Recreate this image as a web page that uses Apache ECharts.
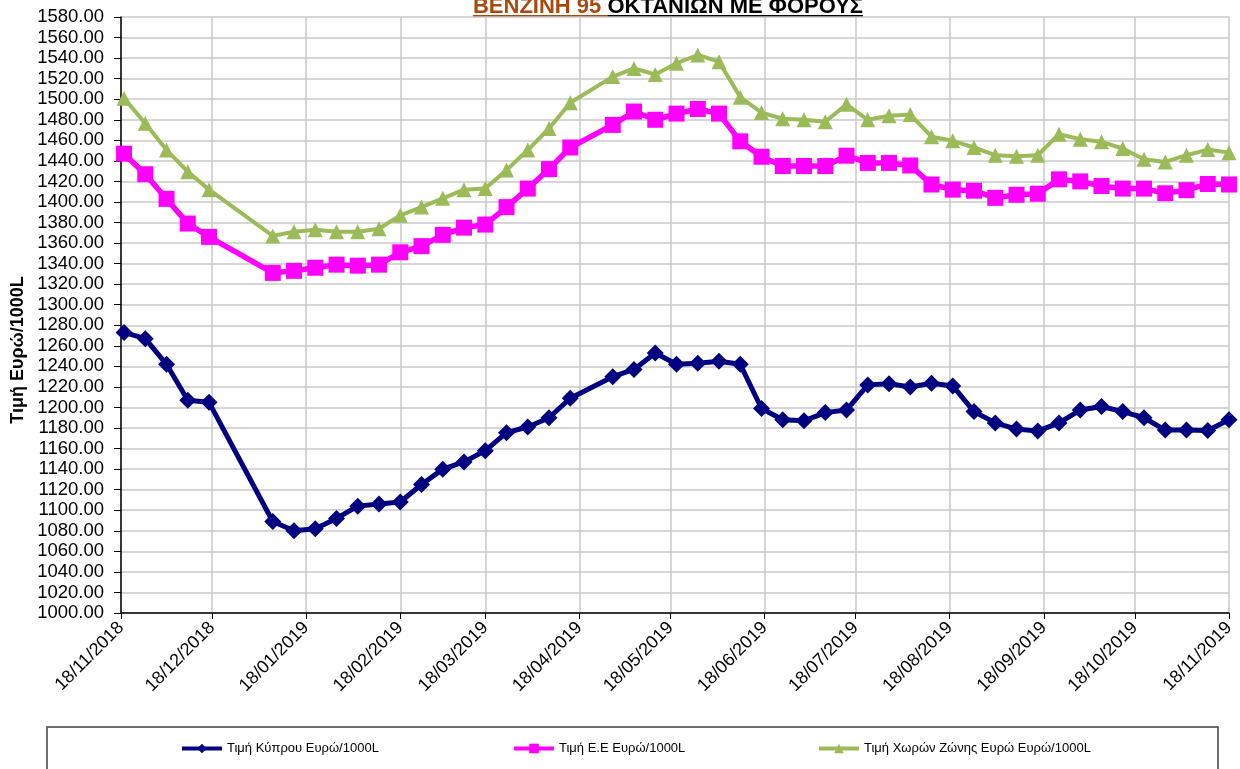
<!DOCTYPE html>
<html><head><meta charset="utf-8">
<script src="https://cdn.jsdelivr.net/npm/echarts@6/dist/echarts.min.js"></script>
<style>html,body{margin:0;padding:0;background:#fff}#c{width:1240px;height:769px}</style>
</head><body><div id="c"></div>
<script>
// ---- data ----
const dates = [
  '2018-11-19','2018-11-26','2018-12-03','2018-12-10','2018-12-17',
  '2019-01-07','2019-01-14','2019-01-21','2019-01-28','2019-02-04','2019-02-11','2019-02-18','2019-02-25',
  '2019-03-04','2019-03-11','2019-03-18','2019-03-25','2019-04-01','2019-04-08','2019-04-15',
  '2019-04-29','2019-05-06','2019-05-13','2019-05-20','2019-05-27','2019-06-03','2019-06-10','2019-06-17','2019-06-24',
  '2019-07-01','2019-07-08','2019-07-15','2019-07-22','2019-07-29','2019-08-05','2019-08-12','2019-08-19','2019-08-26',
  '2019-09-02','2019-09-09','2019-09-16','2019-09-23','2019-09-30','2019-10-07','2019-10-14','2019-10-21','2019-10-28',
  '2019-11-04','2019-11-11','2019-11-18'
];
const cyprus = [
  1273, 1267, 1242, 1207, 1205,
  1089, 1080, 1082, 1092, 1104, 1106, 1108, 1125, 1140, 1147, 1158, 1175.5, 1181, 1190, 1209,
  1230, 1237, 1253, 1242, 1243, 1245, 1242, 1199, 1188, 1187, 1195, 1197.5, 1222, 1223, 1220, 1223.5, 1221, 1196, 1185, 1179,
  1177, 1185, 1197.5, 1201, 1196, 1190, 1178, 1178, 1177.5, 1188
];
const eu = [
  1447, 1427, 1403, 1379, 1366,
  1331, 1333, 1336, 1339, 1338, 1339, 1351, 1357, 1368, 1375, 1378, 1395, 1413, 1432, 1453,
  1475, 1488, 1480, 1486, 1490.5, 1486, 1459, 1444, 1435, 1435, 1435, 1445, 1438, 1438, 1435.5, 1417, 1412, 1411, 1404, 1407,
  1408, 1422, 1420, 1415.5, 1413, 1413, 1408.5, 1411.5, 1417.5, 1417
];
const euroZone = [
  1501, 1476.5, 1450.5, 1429.5, 1412,
  1367, 1371, 1373, 1371, 1371, 1374, 1387, 1395, 1403.5, 1412, 1413, 1431, 1450.5, 1471.5, 1496.5,
  1522, 1530, 1524, 1535, 1543, 1536.5, 1502, 1487, 1481, 1480, 1478, 1495, 1480, 1484, 1485, 1463.5, 1459.5, 1453, 1445.5, 1444.5,
  1445.5, 1466, 1461, 1458.5, 1452, 1441.5, 1439, 1445.5, 1451, 1448
];
const tickDates = ['2018-11-18','2018-12-18','2019-01-18','2019-02-18','2019-03-18','2019-04-18','2019-05-18',
  '2019-06-18','2019-07-18','2019-08-18','2019-09-18','2019-10-18','2019-11-18'];
const yMin = 1000, yMax = 1580, yStep = 20;
const seriesNames = ['Τιμή Κύπρου Ευρώ/1000L', 'Τιμή Ε.Ε Ευρώ/1000L', 'Τιμή Χωρών Ζώνης Ευρώ Ευρώ/1000L'];
const titlePart1 = 'ΒΕΝΖΙΝΗ 95 ';
const titlePart2 = 'ΟΚΤΑΝΙΩΝ ΜΕ ΦΟΡΟΥΣ';
const yAxisTitle = 'Τιμή Ευρώ/1000L';

// ---- helpers ----
const FONT = '"Liberation Sans", Arial, sans-serif';
function toTime(s){ const p = s.split('-').map(Number); return Date.UTC(p[0], p[1]-1, p[2]); }
function pad(n){ return (n<10?'0':'')+n; }
function fmt(v){ const d = new Date(v); return pad(d.getUTCDate())+'/'+pad(d.getUTCMonth()+1)+'/'+d.getUTCFullYear(); }
function zip(a,b){ return a.map((d,i)=>[toTime(d), b[i]]); }
const tickTimes = tickDates.map(toTime);

const ctx = document.createElement('canvas').getContext('2d');
const titleFont = 'bold 22px ' + FONT;
ctx.font = titleFont;
const w1 = ctx.measureText(titlePart1).width, w2 = ctx.measureText(titlePart2).width;
const titleLeft = 668 - (w1 + w2) / 2;

const chart = echarts.init(document.getElementById('c'), null, {renderer:'canvas'});
chart.setOption({
  animation: false,
  backgroundColor: '#fff',
  grid: { left: 121, right: 11, top: 17, bottom: 156, containLabel: false, outerBoundsMode: 'none' },
  xAxis: {
    type: 'value',
    min: tickTimes[0], max: tickTimes[tickTimes.length-1],
    axisLine: { show: true, onZero: false, lineStyle: { color: '#000', width: 1.5 } },
    axisTick: { show: true, length: 6, lineStyle: { color: '#000' }, customValues: tickTimes },
    axisLabel: { customValues: tickTimes, formatter: fmt, rotate: 45, fontSize: 18, fontFamily: FONT, color: '#000', margin: 12, hideOverlap: false },
    splitLine: { show: true, lineStyle: { color: '#c8c8c8', width: 1.5 } }
  },
  yAxis: {
    type: 'value', min: yMin, max: yMax, interval: yStep,
    axisLine: { show: true, lineStyle: { color: '#000', width: 1.5 } },
    axisTick: { show: true, length: 7, lineStyle: { color: '#000' } },
    axisLabel: { formatter: v => v.toFixed(2), fontSize: 18.5, fontFamily: FONT, color: '#000', margin: 17, hideOverlap: false },
    splitLine: { show: true, lineStyle: { color: '#c8c8c8', width: 1.5 } }
  },
  legend: seriesNames.map((n, i) => ({
    data: [n], left: [180, 512, 817][i], top: 742, padding: 0, itemGap: 0,
    itemWidth: 40, itemHeight: 12,
    lineStyle: { width: 4 },
    textStyle: { fontSize: 13, fontFamily: FONT, color: '#000' }
  })),
  series: [
    { name: seriesNames[0], type: 'line', data: zip(dates, cyprus), symbol: 'diamond', symbolSize: 17,
      lineStyle: { width: 5, color: '#000080' }, itemStyle: { color: '#000080' } },
    { name: seriesNames[1], type: 'line', data: zip(dates, eu), symbol: 'rect', symbolSize: 16,
      lineStyle: { width: 5.5, color: '#ff00ff' }, itemStyle: { color: '#ff00ff' } },
    { name: seriesNames[2], type: 'line', data: zip(dates, euroZone), symbol: 'triangle', symbolSize: 15,
      lineStyle: { width: 4, color: '#9bbb59' }, itemStyle: { color: '#9bbb59' } }
  ],
  graphic: [
    { type: 'rect', shape: { x: 47, y: 727, width: 1171, height: 60 }, style: { fill: 'none', stroke: '#404040', lineWidth: 1.5 }, silent: true },
    { type: 'text', x: titleLeft, y: 18, style: { text: titlePart1, font: titleFont, fill: '#a84a10', verticalAlign: 'bottom', align: 'left' } },
    { type: 'text', x: titleLeft + w1, y: 18, style: { text: titlePart2, font: titleFont, fill: '#000', verticalAlign: 'bottom', align: 'left' } },
    { type: 'line', shape: { x1: titleLeft, y1: 16, x2: titleLeft + w1, y2: 16 }, style: { stroke: '#a84a10', lineWidth: 2 } },
    { type: 'line', shape: { x1: titleLeft + w1, y1: 16, x2: titleLeft + w1 + w2, y2: 16 }, style: { stroke: '#000', lineWidth: 2 } },
    { type: 'text', x: 18, y: 350, rotation: Math.PI / 2,
      style: { text: yAxisTitle, font: 'bold 18px ' + FONT, fill: '#000', align: 'center', verticalAlign: 'middle' } }
  ]
});
</script>
</body></html>
